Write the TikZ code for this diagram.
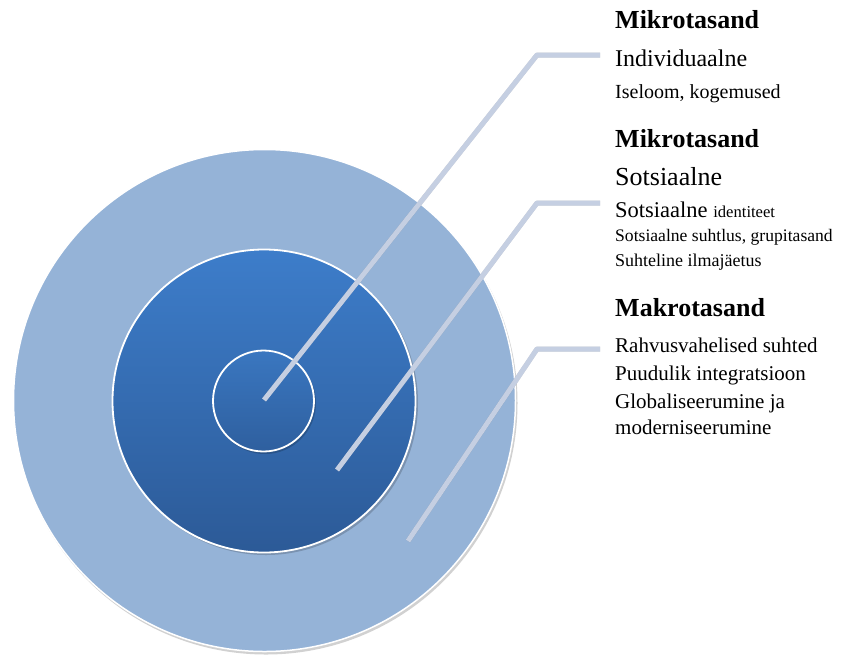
\documentclass[tikz,border=0pt]{standalone}
\usepackage{fontspec}
\setmainfont{Liberation Serif}
\begin{document}
\begin{tikzpicture}[x=1pt,y=-1pt,
  ring/.style={draw=white,line width=1.8pt},
  shadowdisc/.style={fill=black,opacity=0.18,draw=none},
  leader/.style={draw={rgb,255:red,197;green,207;blue,226},line width=5pt,line join=round},
  leadershadow/.style={draw=black,opacity=0.18,line width=5pt,line join=round},
  lbl/.style={anchor=base west,inner sep=0pt,text=black},
  ttl/.style={lbl,font=\fontsize{26}{30}\selectfont\bfseries}]
\useasboundingbox (0,0) rectangle (846,657);
\definecolor{outerc}{RGB}{149,179,215}
\definecolor{midtop}{RGB}{61,125,202}
\definecolor{midbot}{RGB}{44,90,151}
% circles
\fill[shadowdisc] (266,403) circle (251.5);
\fill[outerc] (264.5,400.5) circle (251);
\draw[ring,line width=1.5pt] (264.5,400.5) circle (251);
\fill[shadowdisc] (266,403) circle (152);
\shade[top color=midtop,bottom color=midbot] (264,401) circle (151.5);
\draw[ring] (264,401) circle (151.5);
\fill[shadowdisc] (265,403) circle (51);
\shade[top color=midtop!95!black,bottom color=midbot!85!midtop] (263.5,401) circle (50.5);
\draw[ring] (263.5,401) circle (50.5);
% anchor coordinates
\coordinate (e1) at (264,400);
\coordinate (k1) at (537,55);
\coordinate (h1) at (600,55);
\coordinate (e2) at (337,470);
\coordinate (k2) at (537,203);
\coordinate (h2) at (600,203);
\coordinate (e3) at (408,541);
\coordinate (k3) at (537,349);
\coordinate (h3) at (600,349);
% leader shadows
\begin{scope}[xshift=1.5pt,yshift=-1.5pt]
\draw[leadershadow] (e1) -- (k1) -- (h1);
\draw[leadershadow] (e2) -- (k2) -- (h2);
\draw[leadershadow] (e3) -- (k3) -- (h3);
\end{scope}
\draw[leader] (e1) -- (k1) -- (h1);
\draw[leader] (e2) -- (k2) -- (h2);
\draw[leader] (e3) -- (k3) -- (h3);
% texts
\node[ttl] (t1) at (615,28) {Mikrotasand};
\node[lbl,font=\fontsize{24}{28}\selectfont] (a1) at (615,66) {Individuaalne};
\node[lbl,font=\fontsize{20}{24}\selectfont] (a2) at (615,98) {Iseloom, kogemused};
\node[ttl] (t2) at (615,147) {Mikrotasand};
\node[lbl,font=\fontsize{26}{30}\selectfont] (b1) at (615,185) {Sotsiaalne};
\node[lbl,font=\fontsize{22.5}{26}\selectfont] (b2) at (615,217) {Sotsiaalne {\fontsize{16.6}{20}\selectfont identiteet}};
\node[lbl,font=\fontsize{17.6}{21}\selectfont] (b3) at (615,241) {Sotsiaalne suhtlus, grupitasand};
\node[lbl,font=\fontsize{18}{21}\selectfont] (b4) at (615,266) {Suhteline ilmajäetus};
\node[ttl] (t3) at (615,316) {Makrotasand};
\node[lbl,font=\fontsize{21}{25}\selectfont] (c1) at (615,352) {Rahvusvahelised suhted};
\node[lbl,font=\fontsize{21}{25}\selectfont] (c2) at (615,380) {Puudulik integratsioon};
\node[lbl,font=\fontsize{21}{25}\selectfont] (c3) at (615,408) {Globaliseerumine ja};
\node[lbl,font=\fontsize{21}{25}\selectfont] (c4) at (615,434) {moderniseerumine};
\end{tikzpicture}
\end{document}
